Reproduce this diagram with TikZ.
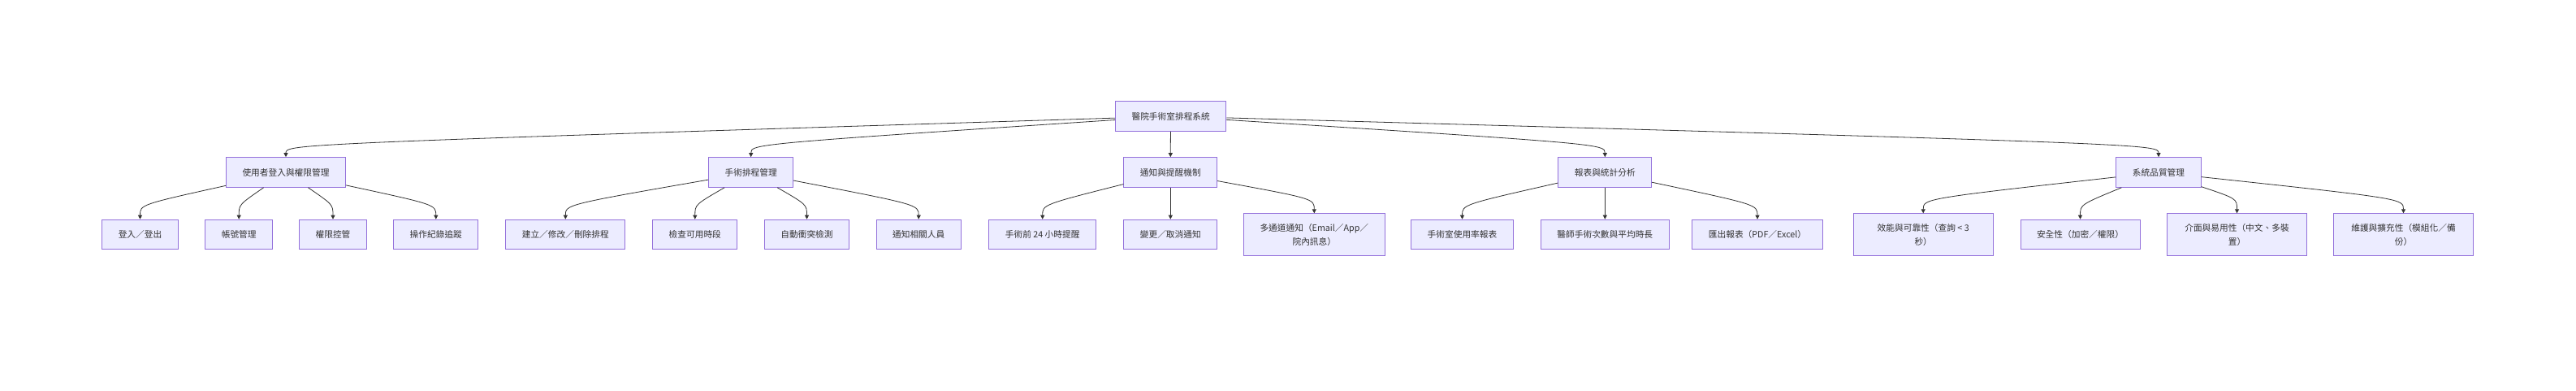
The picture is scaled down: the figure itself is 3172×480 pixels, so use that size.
\documentclass[tikz,border=0pt]{standalone}
\usepackage{fontspec}
\setmainfont{Noto Sans CJK TC}
\usetikzlibrary{arrows.meta,calc}
\definecolor{boxfill}{HTML}{ECECFF}
\definecolor{boxline}{HTML}{9370DB}
\definecolor{edgecol}{HTML}{333333}
\tikzset{
  box/.style={draw=boxline, fill=boxfill, line width=0.9pt, text=edgecol,
    inner xsep=20pt, minimum height=36.7pt,
    font=\fontsize{10.7}{17}\selectfont},
  wrapbox/.style={box, align=center, minimum width=172.3pt, minimum height=52pt},
  edge/.style={draw=edgecol, line width=0.8pt, ->}
}
\begin{document}
\begin{tikzpicture}[x=1pt,y=-1pt,>={Triangle[length=5pt,width=5pt]}]
    \useasboundingbox (0,0) rectangle (3172,480);

    % root
    \node[box] (root) at (1441.7,143) {醫院手術室排程系統};

    % first level
    \node[box] (login)  at (352,212)    {使用者登入與權限管理};
    \node[box] (sched)  at (924.7,212)  {手術排程管理};
    \node[box] (notify) at (1441.3,212) {通知與提醒機制};
    \node[box] (report) at (1976.3,212) {報表與統計分析};
    \node[box] (qual)   at (2658,212)   {系統品質管理};

    % second level: login
    \node[box] (login1) at (172.5,288.5) {登入／登出};
    \node[box] (login2) at (294.2,288.5) {帳號管理};
    \node[box] (login3) at (410,288.5)   {權限控管};
    \node[box] (login4) at (536.8,288.5) {操作紀錄追蹤};

    % second level: scheduling
    \node[box] (sched1) at (696.3,288.5)  {建立／修改／刪除排程};
    \node[box] (sched2) at (855.8,288.5)  {檢查可用時段};
    \node[box] (sched3) at (993.5,288.5)  {自動衝突檢測};
    \node[box] (sched4) at (1131.2,288.5) {通知相關人員};

    % second level: notification
    \node[box] (notify1) at (1283.7,288.5) {手術前 24 小時提醒};
    \node[box] (notify2) at (1441.3,288.5) {變更／取消通知};
    \node[wrapbox] (notify3) at (1618.3,288.8) {多通道通知（Email／App／\\院內訊息）};

    % second level: reports
    \node[box] (report1) at (1800.5,288.5) {手術室使用率報表};
    \node[box] (report2) at (1976.3,288.5) {醫師手術次數與平均時長};
    \node[box] (report3) at (2164,288.5)   {匯出報表（PDF／Excel）};

    % second level: quality
    \node[wrapbox] (qual1) at (2368.2,288.8) {效能與可靠性（查詢 < 3\\秒）};
    \node[box] (qual2)     at (2561.5,288.5) {安全性（加密／權限）};
    \node[wrapbox] (qual3) at (2754.5,288.8) {介面與易用性（中文、多裝\\置）};
    \node[wrapbox] (qual4) at (2959.5,288.8) {維護與擴充性（模組化／備\\份）};

    % connectors from the root
    \foreach \c in {login,sched,notify,report,qual}
        \draw[edge] (root) .. controls ($(\c.north)+(0,-16)$) .. (\c.north);

    % connectors to the second level
    \foreach \c in {login1,login2,login3,login4}
        \draw[edge] (login) .. controls ($(\c.north)+(0,-18)$) .. (\c.north);
    \foreach \c in {sched1,sched2,sched3,sched4}
        \draw[edge] (sched) .. controls ($(\c.north)+(0,-18)$) .. (\c.north);
    \foreach \c in {notify1,notify2,notify3}
        \draw[edge] (notify) .. controls ($(\c.north)+(0,-18)$) .. (\c.north);
    \foreach \c in {report1,report2,report3}
        \draw[edge] (report) .. controls ($(\c.north)+(0,-18)$) .. (\c.north);
    \foreach \c in {qual1,qual2,qual3,qual4}
        \draw[edge] (qual) .. controls ($(\c.north)+(0,-18)$) .. (\c.north);
\end{tikzpicture}
\end{document}
